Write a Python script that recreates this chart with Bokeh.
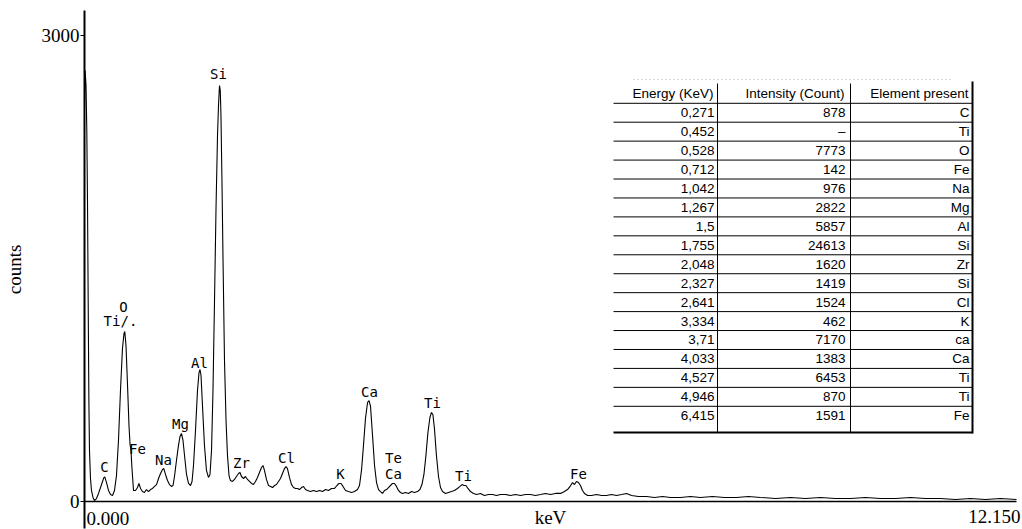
from bokeh.plotting import figure
from bokeh.models import Range1d, FixedTicker, ColumnDataSource
from bokeh.core.properties import value
from bokeh.embed import file_html
from bokeh.resources import INLINE

# ---------------- data ----------------
energy_kev = [
    0.000, 0.008, 0.020, 0.030, 0.039, 0.048, 0.057, 0.065, 0.078, 0.091, 0.111, 0.130,
    0.156, 0.183, 0.209, 0.235, 0.254, 0.265, 0.287, 0.313, 0.339, 0.365, 0.391, 0.417,
    0.443, 0.469, 0.495, 0.515, 0.525, 0.541, 0.561, 0.580, 0.593, 0.606, 0.619, 0.639,
    0.665, 0.691, 0.710, 0.730, 0.756, 0.782, 0.808, 0.834, 0.860, 0.887, 0.913, 0.939,
    0.965, 0.991, 1.017, 1.034, 1.056, 1.082, 1.108, 1.134, 1.154, 1.173, 1.199, 1.225,
    1.245, 1.264, 1.284, 1.304, 1.330, 1.356, 1.382, 1.402, 1.421, 1.447, 1.473, 1.493,
    1.506, 1.519, 1.538, 1.564, 1.590, 1.616, 1.636, 1.656, 1.675, 1.695, 1.714, 1.734,
    1.747, 1.760, 1.770, 1.779, 1.792, 1.806, 1.825, 1.845, 1.864, 1.884, 1.903, 1.929,
    1.955, 1.981, 2.008, 2.027, 2.047, 2.073, 2.099, 2.125, 2.151, 2.177, 2.203, 2.229,
    2.255, 2.281, 2.307, 2.327, 2.346, 2.372, 2.399, 2.425, 2.451, 2.477, 2.503, 2.529,
    2.555, 2.581, 2.607, 2.627, 2.646, 2.672, 2.699, 2.725, 2.751, 2.777, 2.803, 2.829,
    2.855, 2.881, 2.907, 2.946, 2.985, 3.025, 3.064, 3.103, 3.142, 3.181, 3.220, 3.259,
    3.292, 3.318, 3.344, 3.370, 3.403, 3.442, 3.481, 3.520, 3.559, 3.585, 3.611, 3.637,
    3.663, 3.690, 3.709, 3.729, 3.755, 3.781, 3.807, 3.833, 3.859, 3.885, 3.911, 3.937,
    3.963, 3.989, 4.015, 4.041, 4.067, 4.093, 4.119, 4.145, 4.185, 4.224, 4.263, 4.302,
    4.341, 4.373, 4.399, 4.425, 4.451, 4.477, 4.503, 4.523, 4.542, 4.562, 4.588, 4.615,
    4.641, 4.667, 4.706, 4.745, 4.784, 4.823, 4.862, 4.895, 4.921, 4.947, 4.973, 4.999,
    5.032, 5.071, 5.110, 5.162, 5.214, 5.267, 5.319, 5.371, 5.423, 5.488, 5.553, 5.619,
    5.684, 5.749, 5.814, 5.879, 5.945, 6.010, 6.075, 6.140, 6.205, 6.257, 6.297, 6.330,
    6.362, 6.388, 6.414, 6.440, 6.466, 6.492, 6.518, 6.558, 6.610, 6.675, 6.740, 6.805,
    6.870, 6.935, 7.001, 7.066, 7.131, 7.222, 7.326, 7.431, 7.535, 7.639, 7.770, 7.900,
    8.030, 8.187, 8.343, 8.500, 8.656, 8.813, 9.008, 9.204, 9.399, 9.595, 9.790, 9.986,
    10.181, 10.377, 10.572, 10.768, 10.963, 11.159, 11.354, 11.550, 11.745, 11.941, 12.150,
]
counts = [
    2517, 2775, 2678, 2388, 1938, 1294, 650, 328, 148, 71, 26, 6,
    19, 52, 90, 129, 155, 158, 122, 71, 45, 39, 71, 167,
    393, 715, 985, 1082, 1094, 1004, 747, 489, 373, 328, 212, 71,
    71, 90, 116, 84, 64, 58, 77, 64, 77, 84, 97, 109,
    148, 180, 206, 212, 174, 135, 109, 97, 103, 161, 264, 361,
    418, 438, 393, 296, 174, 116, 103, 129, 232, 457, 715, 830,
    850, 811, 618, 361, 200, 155, 174, 328, 715, 1294, 1873, 2356,
    2549, 2678, 2646, 2485, 2067, 1552, 908, 521, 296, 167, 135, 129,
    142, 161, 180, 187, 161, 148, 161, 142, 129, 116, 109, 129,
    155, 187, 219, 232, 200, 142, 103, 97, 90, 103, 109, 129,
    148, 180, 212, 225, 212, 155, 109, 90, 84, 84, 77, 90,
    97, 77, 71, 64, 71, 64, 71, 64, 77, 71, 84, 84,
    103, 116, 116, 97, 71, 64, 58, 64, 77, 103, 200, 361,
    534, 637, 650, 612, 425, 232, 122, 77, 64, 52, 71, 77,
    90, 103, 116, 116, 97, 71, 58, 52, 58, 52, 64, 58,
    64, 77, 109, 174, 296, 444, 541, 573, 560, 470, 296, 161,
    90, 64, 52, 58, 64, 71, 84, 97, 109, 103, 103, 84,
    64, 52, 45, 52, 39, 45, 45, 39, 45, 45, 39, 45,
    39, 45, 45, 39, 45, 52, 45, 52, 52, 64, 77, 97,
    122, 109, 129, 122, 103, 71, 52, 39, 39, 45, 39, 39,
    45, 39, 45, 52, 39, 32, 32, 26, 32, 26, 26, 32,
    26, 32, 26, 26, 32, 26, 19, 26, 19, 26, 19, 19,
    26, 19, 19, 26, 19, 19, 13, 19, 13, 19, 13,
]

peak_labels = ["C", "O", "Ti/.", "Fe", "Na", "Mg", "Al", "Si", "Zr", "Cl", "K",
               "Ca", "Te", "Ca", "Ti", "Ti", "Fe"]
peak_label_energy = [0.261, 0.508, 0.469, 0.691, 1.030, 1.251, 1.499, 1.747, 2.047,
                     2.633, 3.337, 3.715, 4.028, 4.028, 4.537, 4.941, 6.440]
peak_label_counts = [219, 1255, 1159, 341, 264, 496, 889, 2749, 245,
                     277, 174, 702, 283, 174, 631, 161, 180]

table_header = ["Energy (KeV)", "Intensity (Count)", "Element present"]
table_energy = ["0,271", "0,452", "0,528", "0,712", "1,042", "1,267", "1,5", "1,755",
                "2,048", "2,327", "2,641", "3,334", "3,71", "4,033", "4,527", "4,946", "6,415"]
table_intensity = ["878", "\u2013", "7773", "142", "976", "2822", "5857", "24613",
                   "1620", "1419", "1524", "462", "7170", "1383", "6453", "870", "1591"]
table_element = ["C", "Ti", "O", "Fe", "Na", "Mg", "Al", "Si",
                 "Zr", "Si", "Cl", "K", "ca", "Ca", "Ti", "Ti", "Fe"]

x_min, x_max = 0.0, 12.15
x_tick_labels = ["0.000", "12.150"]
x_title = "keV"
y_title = "counts"
y_ticks = [0, 3000]

# ---------------- layout (pixels) ----------------
W, H = 1022, 529
FL, FR, FT, FB = 84, 1022, 10, 528          # frame edges
X_AXIS_END_PX = 1016                          # where x_max sits
Y0_PX, Y3000_PX = 501, 35                     # where 0 and 3000 counts sit

ppk = (X_AXIS_END_PX - FL) / (x_max - x_min)  # px per keV
ppc = (Y0_PX - Y3000_PX) / 3000.0             # px per count

x_range = Range1d(x_min, x_min + (FR - FL) / ppk)
y_range = Range1d(-(FB - Y0_PX) / ppc, (Y0_PX - FT) / ppc)


def X(px):
    return x_min + (px - FL) / ppk


def Y(py):
    return (Y0_PX - py) / ppc


p = figure(width=W, height=H, x_range=x_range, y_range=y_range,
           output_backend="svg", toolbar_location=None,
           x_axis_location=None, min_border_left=FL, min_border_right=W - FR,
           min_border_top=FT, min_border_bottom=H - FB)
p.outline_line_color = None
p.grid.visible = False
p.background_fill_color = "white"
p.border_fill_color = "white"

serif = "Liberation Serif"
ax = p.yaxis[0]
ax.ticker = FixedTicker(ticks=y_ticks)
ax.axis_line_width = 2
ax.axis_line_color = "black"
ax.major_tick_out = 4
ax.major_tick_in = 0
ax.minor_tick_out = 0
ax.minor_tick_in = 0
ax.major_tick_line_color = "black"
ax.major_label_standoff = 1
ax.major_label_text_font = serif
ax.major_label_text_font_size = "19px"
ax.major_label_text_color = "black"
ax.axis_label = y_title
ax.axis_label_text_font = serif
ax.axis_label_text_font_size = "19px"
ax.axis_label_text_font_style = "normal"
ax.axis_label_text_color = "black"
ax.axis_label_standoff = 14

# x axis line
p.segment(x0=[x_min], y0=[0], x1=[x_max], y1=[0], line_color="black", line_width=1.6)

# spectrum
p.line(energy_kev, counts, line_color="black", line_width=1.1)

# x tick labels and title
p.text(x=[x_min + 2 / ppk], y=[Y(518)], text=[x_tick_labels[0]],
       text_font=value(serif), text_font_size="19px", text_align="left",
       text_baseline="middle", text_color="black")
p.text(x=[x_max + 4 / ppk], y=[Y(516)], text=[x_tick_labels[1]],
       text_font=value(serif), text_font_size="19px", text_align="right",
       text_baseline="middle", text_color="black")
p.text(x=[(x_min + x_max) / 2], y=[Y(517)], text=[x_title],
       text_font=value(serif), text_font_size="19px", text_align="center",
       text_baseline="middle", text_color="black")

# peak labels
p.text(x=peak_label_energy, y=peak_label_counts, text=peak_labels,
       text_font=value("DejaVu Sans Mono"), text_font_size="14px",
       text_align="center", text_baseline="middle", text_color="black")

# ---------------- table ----------------
n = len(table_energy)
HEAD_CY, FIRST_CY, ROW_H = 93.3, 112.2, 18.94
TBL_L, TBL_R, TBL_TOP, TBL_BOT = 613, 972, 79, 432
COL_SEP = [717, 850]
COL_RIGHT = [714, 845, 969]
row_cy = [FIRST_CY + i * ROW_H for i in range(n)]

hl_y = [HEAD_CY + 9.5] + [c + 9.5 for c in row_cy[:-1]]
p.segment(x0=[X(TBL_L)] * len(hl_y), x1=[X(TBL_R)] * len(hl_y),
          y0=[Y(v) for v in hl_y], y1=[Y(v) for v in hl_y],
          line_color="black", line_width=1)
p.segment(x0=[X(TBL_L)], x1=[X(TBL_R)], y0=[Y(TBL_BOT)], y1=[Y(TBL_BOT)],
          line_color="black", line_width=1.8)
p.segment(x0=[X(TBL_L + 20)], x1=[X(TBL_R - 20)], y0=[Y(TBL_TOP)], y1=[Y(TBL_TOP)],
          line_color="#b0b0b0", line_width=1, line_dash="1 3")
p.segment(x0=[X(c) for c in COL_SEP], x1=[X(c) for c in COL_SEP],
          y0=[Y(TBL_TOP + 4)] * 2, y1=[Y(TBL_BOT)] * 2,
          line_color="black", line_width=1)
p.segment(x0=[X(TBL_R)], x1=[X(TBL_R)], y0=[Y(TBL_TOP + 2)], y1=[Y(TBL_BOT + 1)],
          line_color="black", line_width=2)

cell_x, cell_y, cell_t = [], [], []
for j, h in enumerate(table_header):
    cell_x.append(X(COL_RIGHT[j] - 1)); cell_y.append(Y(HEAD_CY)); cell_t.append(h)
for i in range(n):
    for j, col in enumerate([table_energy, table_intensity, table_element]):
        cell_x.append(X(COL_RIGHT[j])); cell_y.append(Y(row_cy[i])); cell_t.append(col[i])
p.text(x=cell_x, y=cell_y, text=cell_t, text_font=value("Liberation Sans"),
       text_font_size="13.5px", text_align="right", text_baseline="middle",
       text_color="black")

open("out.html", "w").write(file_html(p, INLINE))
